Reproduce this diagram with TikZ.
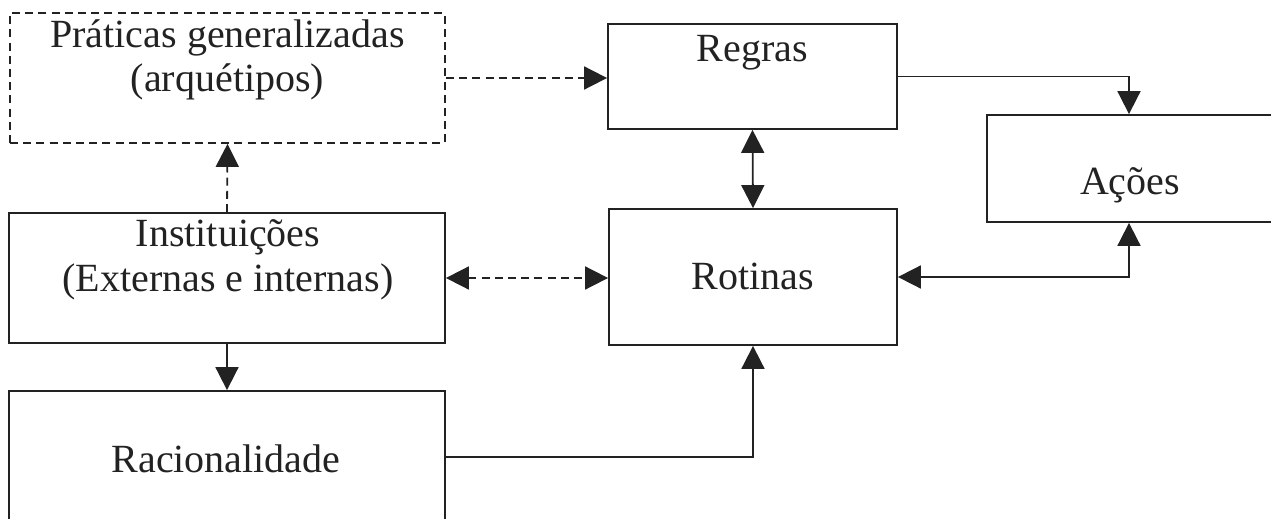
\documentclass[tikz,border=0pt]{standalone}
\usepackage{fontspec}
\setmainfont{Liberation Serif}
\usetikzlibrary{arrows.meta}
\definecolor{ink}{HTML}{222222}
\begin{document}
\begin{tikzpicture}[x=0.5pt,y=-0.5pt,
  box/.style={draw=ink,line width=0.9pt,rectangle,inner sep=0pt,fill=none},
  dbox/.style={box,dash pattern=on 4pt off 2.6pt},
  lbl/.style={anchor=base,inner sep=0pt,font=\fontsize{20pt}{22pt}\selectfont,text=ink},
  conn/.style={draw=ink,line width=0.9pt,-{Triangle[length=11.5pt,width=11.5pt]}},
  bothconn/.style={conn,{Triangle[length=11.5pt,width=11.5pt]}-{Triangle[length=11.5pt,width=11.5pt]}},
  dconn/.style={dash pattern=on 4pt off 2.6pt}]
\useasboundingbox (0,0) rectangle (1271,519);
\clip (0,0) rectangle (1271,519);

% boxes
\node[dbox,minimum width=217.5pt,minimum height=65pt] (prat) at (227.5,78) {};
\node[box,minimum width=144.5pt,minimum height=52.5pt] (regras) at (752.5,76.5) {};
\node[box,minimum width=154pt,minimum height=53.5pt] (acoes) at (1141,168.5) {};
\node[box,minimum width=218pt,minimum height=65pt] (inst) at (227,278) {};
\node[box,minimum width=144pt,minimum height=68pt] (rot) at (753,277) {};
\node[box,minimum width=218pt,minimum height=84.5pt] (rac) at (227,475.5) {};

% labels
\node[lbl] (pratA) at (227.5,48) {Práticas generalizadas};
\node[lbl] (pratB) at (227.5,92) {(arquétipos)};
\node[lbl] (regrasT) at (752.5,62) {Regras};
\node[lbl] (acoesT) at (1130,195) {Ações};
\node[lbl] (instA) at (228,247) {Instituições};
\node[lbl] (instB) at (228,292) {(Externas e internas)};
\node[lbl] (rotT) at (753,290) {Rotinas};
\node[lbl] (racT) at (226,472) {Racionalidade};

% connectors
\draw[conn,dconn] (prat.east) -- (regras.west |- prat.east);
\draw[conn,dconn] (inst.north) -- (prat.south);
\draw[bothconn] (regras.south) -- (rot.north);
\draw[bothconn,dconn] (inst.east) -- (rot.west |- inst.east);
\draw[conn] (regras.east) -| ([xshift=-6pt]acoes.north);
\draw[bothconn] (rot.east) -| ([xshift=-6pt]acoes.south);
\draw[conn] (inst.south) -- (rac.north);
\draw[conn] ([yshift=9.25pt]rac.east) -| (rot.south);
\end{tikzpicture}
\end{document}
